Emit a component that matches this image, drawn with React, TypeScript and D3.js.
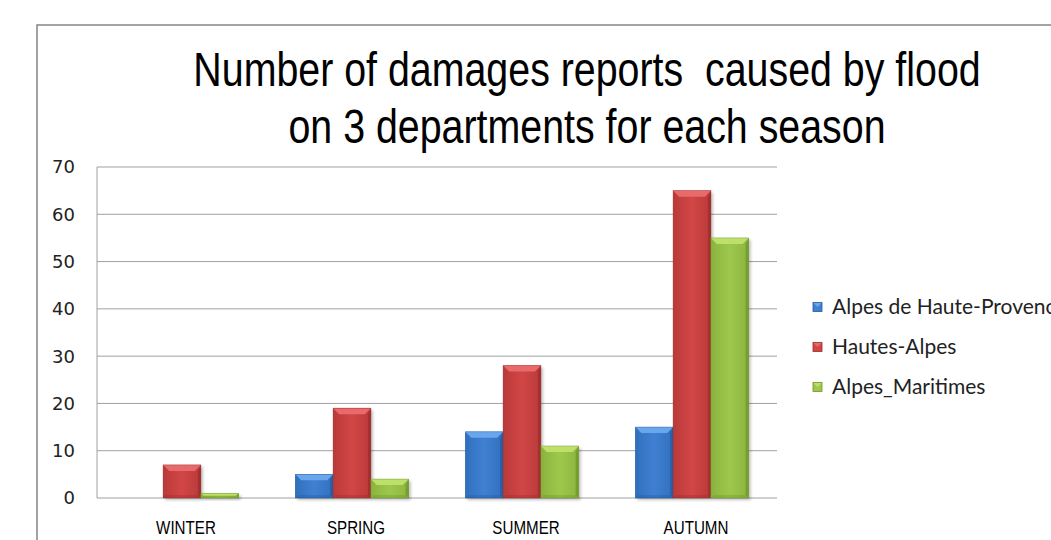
import React from "react";
import * as d3 from "d3";

const categories = ["WINTER", "SPRING", "SUMMER", "AUTUMN"];
const seriesNames = ["Alpes de Haute-Provence", "Hautes-Alpes", "Alpes_Maritimes"];
const alpesHauteProvence = [0, 5, 14, 15];
const hautesAlpes = [7, 19, 28, 65];
const alpesMaritimes = [1, 4, 11, 55];
const yTicks = [0, 10, 20, 30, 40, 50, 60, 70];
const titleLines = ["Number of damages reports  caused by flood", "on 3 departments for each season"];

const seriesValues = [alpesHauteProvence, hautesAlpes, alpesMaritimes];
const palette = [
  { main: "#3f80d2", light: "#6aa6ec", dark: "#23589e", edge: "#3170bd" },
  { main: "#d24646", light: "#e86a6a", dark: "#9a2b2b", edge: "#ba3a3a" },
  { main: "#9ec84c", light: "#bde06a", dark: "#6c9428", edge: "#8ab43e" },
];

const W = 1051;
const H = 540;
const plotLeft = 97;
const plotRight = 777;
const plotTop = 167;
const plotBottom = 498;

function Bar({ x, y, w, h, c, id }: { x: number; y: number; w: number; h: number; c: typeof palette[0]; id: string }) {
  if (h <= 0) return null;
  const b = Math.min(6, h / 2, w / 4);
  const bs = Math.min(3, h / 2);
  return (
    <g>
      <rect x={x + 2} y={y + 2} width={w} height={h} fill="#000" opacity={0.25} filter="url(#shadow)" />
      <rect x={x} y={y} width={w} height={h} fill={`url(#g${id})`} />
      <polygon points={`${x},${y} ${x + w},${y} ${x + w - b},${y + b} ${x + b},${y + b}`} fill={c.light} />
      <polygon points={`${x},${y} ${x + bs},${y + b} ${x + bs},${y + h - bs} ${x},${y + h}`} fill={c.edge} opacity={0.6} />
      <polygon points={`${x + w},${y} ${x + w - bs},${y + b} ${x + w - bs},${y + h - bs} ${x + w},${y + h}`} fill={c.dark} opacity={0.7} />
      <polygon points={`${x},${y + h} ${x + bs},${y + h - bs} ${x + w - bs},${y + h - bs} ${x + w},${y + h}`} fill={c.dark} opacity={0.35} />
      <rect x={x} y={y} width={w} height={h} fill="none" stroke={c.dark} strokeWidth={0.6} opacity={0.7} />
    </g>
  );
}

export default function App() {
  const x0 = d3.scaleBand<string>().domain(categories).range([plotLeft, plotRight]).paddingInner(0).paddingOuter(0);
  const x1 = d3.scaleBand<string>().domain(seriesNames).range([0, x0.bandwidth()]).paddingInner(0).paddingOuter(0.75);
  const y = d3.scaleLinear().domain([0, 70]).range([plotBottom, plotTop]);
  const titleCx = 587;

  return (
    <svg width={W} height={H} style={{ display: "block", position: "absolute", left: 0, top: 0 }}>
      <defs>
        <filter id="shadow" x="-20%" y="-20%" width="140%" height="140%">
          <feGaussianBlur stdDeviation="1.5" />
        </filter>
        {palette.map((c, i) => (
          <linearGradient key={i} id={`g${i}`} x1="0" x2="1" y1="0" y2="0">
            <stop offset="0" stopColor={c.edge} />
            <stop offset="0.5" stopColor={c.main} />
            <stop offset="1" stopColor={c.edge} />
          </linearGradient>
        ))}
      </defs>
      <rect x={0} y={0} width={W} height={H} fill="#fff" />
      <rect x={37} y={25} width={W + 20} height={H} fill="#fff" stroke="#858585" strokeWidth={1.5} />

      {titleLines.map((t, i) => (
        <text
          key={i}
          transform={`translate(${titleCx},${86 + i * 57}) scale(0.82,1)`}
          textAnchor="middle"
          fontFamily="'Liberation Sans', Arial, sans-serif"
          fontSize={48}
          fill="#000"
          style={{ whiteSpace: "pre" }}
        >
          {t}
        </text>
      ))}

      {yTicks.map((t) => (
        <g key={t}>
          <line x1={plotLeft} x2={plotRight} y1={y(t)} y2={y(t)} stroke="#a0a0a0" strokeWidth={1} />
          <text x={75} y={y(t)} dy="0.36em" textAnchor="end" fontFamily="'DejaVu Sans', sans-serif" fontSize={18} fill="#222">
            {t}
          </text>
        </g>
      ))}
      <line x1={plotLeft} x2={plotLeft} y1={plotTop} y2={plotBottom} stroke="#a0a0a0" strokeWidth={1} />

      {categories.map((cat, ci) => (
        <g key={cat}>
          {seriesNames.map((s, si) => {
            const v = seriesValues[si][ci];
            const bx = (x0(cat) as number) + (x1(s) as number);
            return <Bar key={s} x={bx} y={y(v)} w={x1.bandwidth()} h={y(0) - y(v)} c={palette[si]} id={String(si)} />;
          })}
          <text
            transform={`translate(${(x0(cat) as number) + x0.bandwidth() / 2 + 4},534) scale(0.82,1)`}
            textAnchor="middle"
            fontFamily="'Liberation Sans', Arial, sans-serif"
            fontSize={18.5}
            fill="#000"
          >
            {cat}
          </text>
        </g>
      ))}

      {seriesNames.map((s, i) => {
        const cy = 307 + i * 40;
        const c = palette[i];
        return (
          <g key={s}>
            <rect x={813} y={cy - 4.5} width={9} height={9} fill={c.main} stroke={c.dark} strokeWidth={0.8} />
            <polygon points={`${813.5},${cy - 4} ${821.5},${cy - 4} ${817.5},${cy}`} fill={c.light} />
            <text x={832} y={cy} dy="0.35em" fontFamily="Lato, 'Open Sans', sans-serif" fontSize={21} fill="#222">
              {s}
            </text>
          </g>
        );
      })}
    </svg>
  );
}
